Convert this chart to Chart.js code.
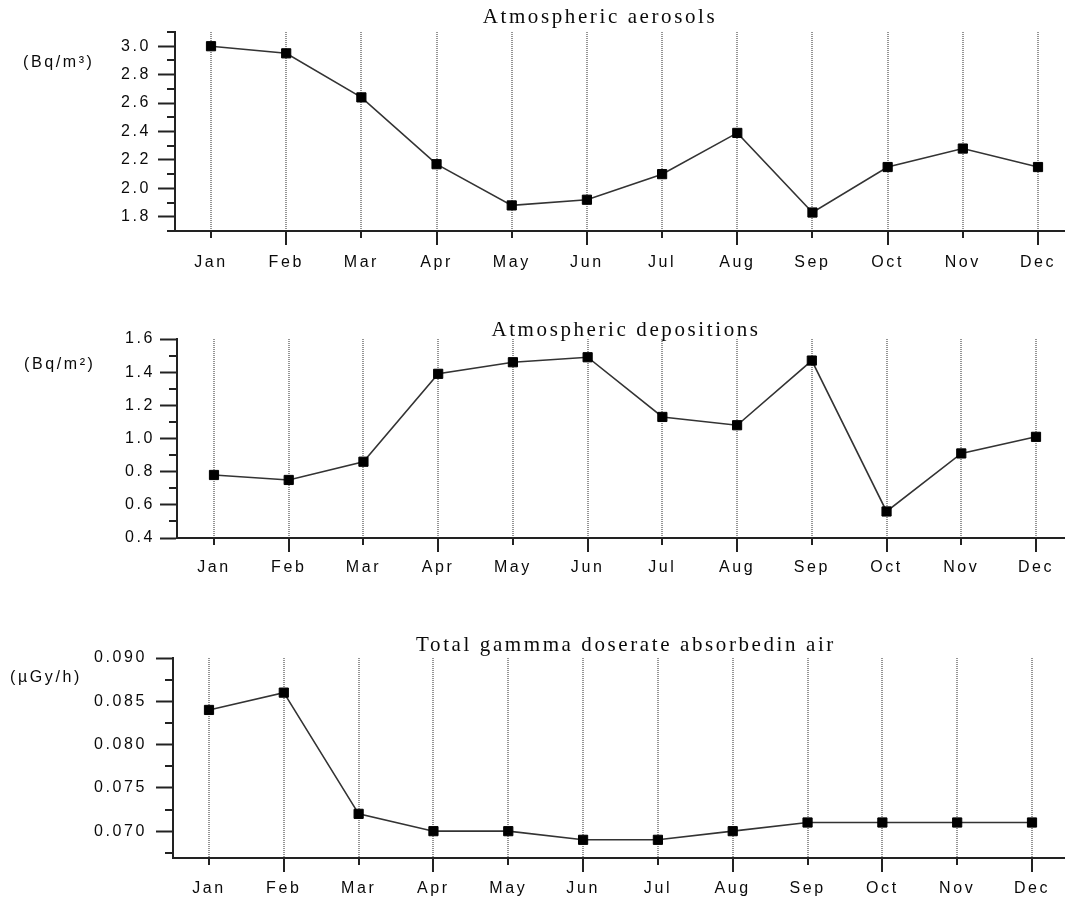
<!DOCTYPE html>
<html>
<head>
<meta charset="utf-8">
<title>Monthly radioactivity</title>
<script src="https://cdn.jsdelivr.net/npm/chart.js@4.4.1/dist/chart.umd.min.js"></script>
<style>
  html, body { margin: 0; padding: 0; background: #fff; }
  #wrap { position: relative; width: 1065px; height: 899px; overflow: hidden; }
  canvas { position: absolute; left: 0; }
</style>
</head>
<body>
<div id="wrap">
  <canvas id="aerosols" width="1065" height="290" style="top:0"></canvas>
  <canvas id="depositions" width="1065" height="310" style="top:290px"></canvas>
  <canvas id="gamma" width="1065" height="299" style="top:600px"></canvas>
</div>
<script>
const MONTHS = ["Jan", "Feb", "Mar", "Apr", "May", "Jun", "Jul", "Aug", "Sep", "Oct", "Nov", "Dec"]

// Bq/m3
const AEROSOLS = [3.00, 2.95, 2.64, 2.17, 1.88, 1.92, 2.10, 2.39, 1.83, 2.15, 2.28, 2.15]
// Bq/m2
const DEPOSITIONS = [0.78, 0.75, 0.86, 1.39, 1.46, 1.49, 1.13, 1.08, 1.47, 0.56, 0.91, 1.01]
// uGy/h
const GAMMA_DOSE = [0.084, 0.086, 0.072, 0.070, 0.070, 0.069, 0.069, 0.070, 0.071, 0.071, 0.071, 0.071]

const INK = "#0a0a0a"
const AXIS_COLOR = "#222"
const SPREAD = "2.6px"

function onStep(v, step) {
  const r = v / step
  return Math.abs(r - Math.round(r)) < 1e-6
}

// every multiple of step inside [min, max]
function stepTicks(min, max, step) {
  const out = []
  for (let k = Math.ceil(min / step - 1e-9); k * step <= max + 1e-9; k++) {
    out.push({ value: Math.round(k * step * 1e6) / 1e6 })
  }
  return out
}

// all text in these figures is set a little wide
const spreadText = {
  id: "spreadText",
  beforeDraw(chart) {
    chart.ctx.letterSpacing = SPREAD
  }
}

// short unlabelled marks: every other month on x, half steps on y
const minorTicks = {
  id: "minorTicks",
  afterDraw(chart, args, opts) {
    const { ctx } = chart
    const { x, y } = chart.scales
    ctx.save()
    ctx.strokeStyle = AXIS_COLOR
    ctx.lineWidth = 2
    ctx.beginPath()
    y.ticks.forEach(t => {
      if (onStep(t.value, opts.yMajor)) return
      const py = Math.round(y.getPixelForValue(t.value))
      ctx.moveTo(y.right - 8, py)
      ctx.lineTo(y.right, py)
    })
    x.ticks.forEach(t => {
      if (t.value % 2 === 1) return
      const px = Math.round(x.getPixelForValue(t.value))
      ctx.moveTo(px, x.top)
      ctx.lineTo(px, x.top + 7)
    })
    ctx.stroke()
    ctx.restore()
  }
}

// panel title and the unit label on the left
const panelText = {
  id: "panelText",
  afterDraw(chart, args, opts) {
    const ctx = chart.ctx
    ctx.save()
    ctx.letterSpacing = SPREAD
    ctx.fillStyle = INK
    ctx.textBaseline = "middle"
    ctx.font = '21px "Liberation Serif"'
    ctx.textAlign = "center"
    ctx.fillText(opts.title, opts.titleX, opts.titleY)
    ctx.font = '16px "Liberation Sans"'
    ctx.textAlign = "left"
    ctx.fillText(opts.unit, opts.unitX, opts.unitY)
    ctx.restore()
  }
}

function makePanel(id, p) {
  const data = p.values.map((v, i) => ({ x: i, y: v }))
  return new Chart(document.getElementById(id), {
    type: "line",
    data: {
      datasets: [{
        data,
        borderColor: "#333",
        borderWidth: 1.6,
        pointStyle: "rect",
        pointRadius: 6.5,
        pointBackgroundColor: "#000",
        pointBorderColor: "#000",
        pointBorderWidth: 1,
        tension: 0
      }]
    },
    plugins: [spreadText, minorTicks, panelText],
    options: {
      responsive: false,
      animation: false,
      events: [],
      layout: { autoPadding: false, padding: { top: p.top, left: 0, right: 0, bottom: 0 } },
      scales: {
        x: {
          type: "linear",
          min: p.xMin,
          max: p.xMax,
          afterFit: s => { s.height = p.xHeight },
          afterBuildTicks: s => { s.ticks = MONTHS.map((m, i) => ({ value: i })) },
          ticks: {
            autoSkip: false,
            maxRotation: 0,
            padding: p.xPad,
            color: INK,
            font: { family: "Liberation Sans", size: 16 },
            callback: v => MONTHS[v]
          },
          grid: {
            color: "#949494",
            lineWidth: 2,
            tickLength: 14,
            tickWidth: 2,
            tickBorderDash: [],
            tickColor: c => (c.tick && c.tick.value % 2 === 1) ? AXIS_COLOR : "transparent"
          },
          border: { color: AXIS_COLOR, width: 2, dash: [1, 1] }
        },
        y: {
          min: p.yMin,
          max: p.yMax,
          afterFit: s => { s.width = p.left },
          afterBuildTicks: s => { s.ticks = stepTicks(p.yMin, p.yMax, p.yMinor) },
          ticks: {
            autoSkip: false,
            padding: p.yPad,
            color: INK,
            font: { family: "Liberation Sans", size: 16 },
            callback: v => onStep(v, p.yMajor) ? v.toFixed(p.decimals) : ""
          },
          grid: {
            drawOnChartArea: false,
            tickLength: 17,
            tickWidth: 2,
            tickColor: c => (c.tick && onStep(c.tick.value, p.yMajor)) ? AXIS_COLOR : "transparent"
          },
          border: { color: AXIS_COLOR, width: 2 }
        }
      },
      plugins: {
        legend: { display: false },
        tooltip: { enabled: false },
        minorTicks: { yMajor: p.yMajor },
        panelText: {
          title: p.title, titleX: p.titleX, titleY: p.titleY,
          unit: p.unit, unitX: p.unitX, unitY: p.unitY
        }
      }
    }
  })
}

makePanel("aerosols", {
  values: AEROSOLS,
  title: "Atmospheric aerosols", titleX: 600, titleY: 17,
  unit: "(Bq/m³)", unitX: 23, unitY: 63,
  top: 32, left: 175, xHeight: 59, xPad: 8,
  xMin: -0.479, xMax: 11.359,
  yMin: 1.7, yMax: 3.1, yMajor: 0.2, yMinor: 0.1, decimals: 1, yPad: 7
})

makePanel("depositions", {
  values: DEPOSITIONS,
  title: "Atmospheric depositions", titleX: 626, titleY: 40,
  unit: "(Bq/m²)", unitX: 24, unitY: 75,
  top: 49, left: 177, xHeight: 62, xPad: 6,
  xMin: -0.495, xMax: 11.388,
  yMin: 0.4, yMax: 1.6, yMajor: 0.2, yMinor: 0.1, decimals: 1, yPad: 5
})

makePanel("gamma", {
  values: GAMMA_DOSE,
  title: "Total gammma doserate absorbedin air", titleX: 626, titleY: 45,
  unit: "(µGy/h)", unitX: 10, unitY: 78,
  top: 58, left: 173, xHeight: 41, xPad: 7,
  xMin: -0.481, xMax: 11.441,
  yMin: 0.0669, yMax: 0.090, yMajor: 0.005, yMinor: 0.0025, decimals: 3, yPad: 9
})
</script>
</body>
</html>
